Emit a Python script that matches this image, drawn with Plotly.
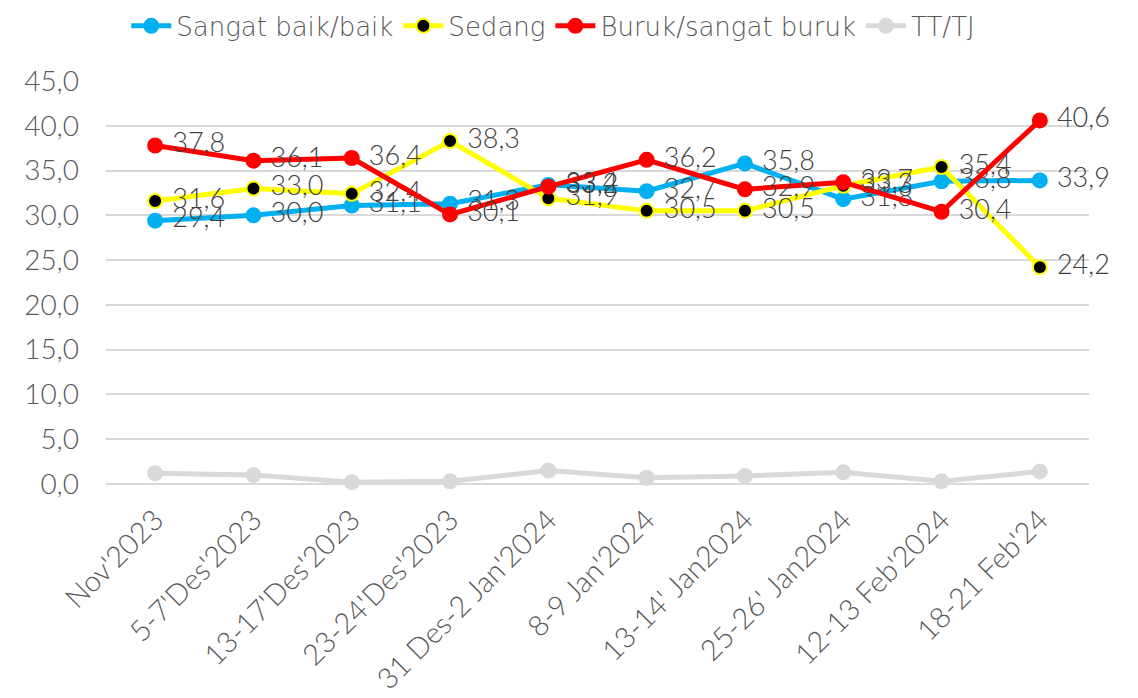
import plotly.graph_objects as go

categories = ["Nov'2023", "5-7'Des'2023", "13-17'Des'2023", "23-24'Des'2023",
              "31 Des-2 Jan'2024", "8-9 Jan'2024", "13-14' Jan2024", "25-26' Jan2024",
              "12-13 Feb'2024", "18-21 Feb'24"]
baik = [29.4, 30.0, 31.1, 31.3, 33.4, 32.7, 35.8, 31.8, 33.8, 33.9]
sedang = [31.6, 33.0, 32.4, 38.3, 31.9, 30.5, 30.5, 33.3, 35.4, 24.2]
buruk = [37.8, 36.1, 36.4, 30.1, 33.2, 36.2, 32.9, 33.7, 30.4, 40.6]
tttj = [1.2, 1.0, 0.2, 0.3, 1.5, 0.7, 0.9, 1.3, 0.3, 1.4]
y_ticks = [0, 5, 10, 15, 20, 25, 30, 35, 40, 45]

FONT = "Lato, Open Sans, sans-serif"
LEG_FONT = "DejaVu Sans, Open Sans, sans-serif"
fig = go.Figure()

def add(name, y, color, mfill, mline, labels=True):
    fig.add_trace(go.Scatter(
        x=categories, y=y, name=name,
        mode="lines+markers+text" if labels else "lines+markers",
        line=dict(color=color, width=5),
        marker=dict(size=14, color=mfill, line=dict(color=mline, width=2)),
        texttemplate=" %{y:.1f}", textposition="middle right",
        textfont=dict(size=27, color="#404040", family=FONT, weight=300),
        cliponaxis=False,
    ))

add("Sangat baik/baik", baik, "#00B0F0", "#00B0F0", "#00B0F0")
add("Sedang", sedang, "#FFFF00", "#000000", "#FFFF00")
add("Buruk/sangat buruk", buruk, "#FF0000", "#FF0000", "#FF0000")
add("TT/TJ", tttj, "#D9D9D9", "#D9D9D9", "#D9D9D9", labels=False)

fig.update_layout(
    width=1130, height=690,
    margin=dict(l=98, r=49, t=73, b=214, autoexpand=False),
    paper_bgcolor="white", plot_bgcolor="white",
    separators=",.",
    font=dict(family=FONT, color="#595959"),
    legend=dict(orientation="h", x=0.455, xanchor="center", y=1.195, yanchor="top",
                font=dict(size=26, color="#595959", family=LEG_FONT, weight=300),
                itemwidth=40, tracegroupgap=0),
    showlegend=True,
)
fig.update_xaxes(showgrid=False, showline=False, tickangle=-45, automargin=False,
                 tickfont=dict(size=29, color="#595959", family=FONT, weight=300),
                 ticks="", range=[-0.5, 9.5], ticklabelstandoff=12)
fig.update_yaxes(range=[0, 45], tickvals=y_ticks, tickformat=".1f", automargin=False,
                 showgrid=True, gridcolor="#D9D9D9", gridwidth=2,
                 zeroline=True, zerolinecolor="#D9D9D9", zerolinewidth=2,
                 tickfont=dict(size=28, color="#595959", family=FONT, weight=300),
                 ticklabelstandoff=26)

fig.write_html("out.html")
